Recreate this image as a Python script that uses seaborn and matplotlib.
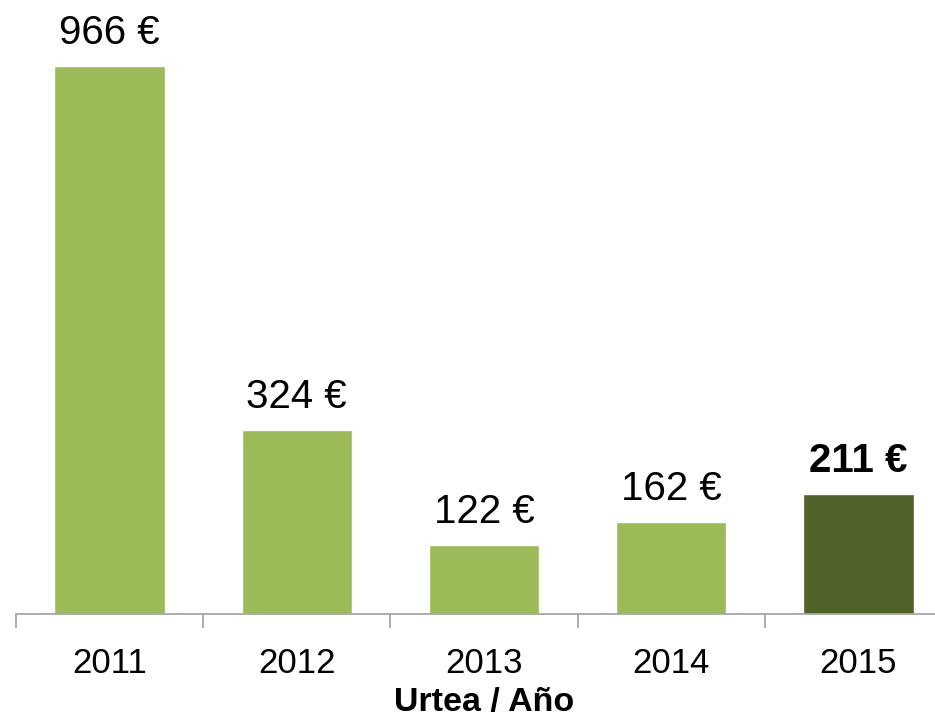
import matplotlib
matplotlib.use("Agg")
import matplotlib.pyplot as plt
import seaborn as sns
import pandas as pd
import numpy as np

years = ["2011", "2012", "2013", "2014", "2015"]
values = [966, 324, 122, 162, 211]
labels = ["966 €", "324 €", "122 €", "162 €", "211 €"]
colors = ["#9BBB59", "#9BBB59", "#9BBB59", "#9BBB59", "#4F6228"]
bold = [False, False, False, False, True]

sns.set_theme(style="white")
plt.rcParams["font.family"] = ["Liberation Sans", "DejaVu Sans"]

W, H = 935, 718
fig = plt.figure(figsize=(W / 100, H / 100), dpi=100)
left, right, bottom = 16, 952, 614
ax = fig.add_axes([left / W, (H - bottom) / H, (right - left) / W, 567 / H])

df = pd.DataFrame({"year": years, "value": values})
sns.barplot(data=df, x="year", y="value", hue="year", palette=colors,
            legend=False, width=0.59, ax=ax, saturation=1)

ax.set_xlim(-0.5, 4.5)
ax.set_ylim(0, 1000)
ax.set_yticks([])
for s in ["top", "right", "left"]:
    ax.spines[s].set_visible(False)
ax.spines["bottom"].set_color("#A6A6A6")
ax.spines["bottom"].set_linewidth(1.3)

ax.set_xticks(np.arange(-0.5, 5.0, 1.0), minor=True)
ax.tick_params(axis="x", which="minor", length=10, width=1.3, color="#A6A6A6",
               direction="out", bottom=True)
ax.tick_params(axis="x", which="major", length=0, pad=24, labelsize=25,
               labelcolor="black")
ax.set_xlabel("Urtea / Año", fontsize=24.5, fontweight="bold", labelpad=5,
              color="black")
ax.set_ylabel("")

for i, (v, t, b) in enumerate(zip(values, labels, bold)):
    ax.annotate(t, (i, v), xytext=(0, 10), textcoords="offset points",
                ha="center", va="bottom", fontsize=29,
                fontweight="bold" if b else "normal", color="black")

fig.savefig("out.png", dpi=100)
